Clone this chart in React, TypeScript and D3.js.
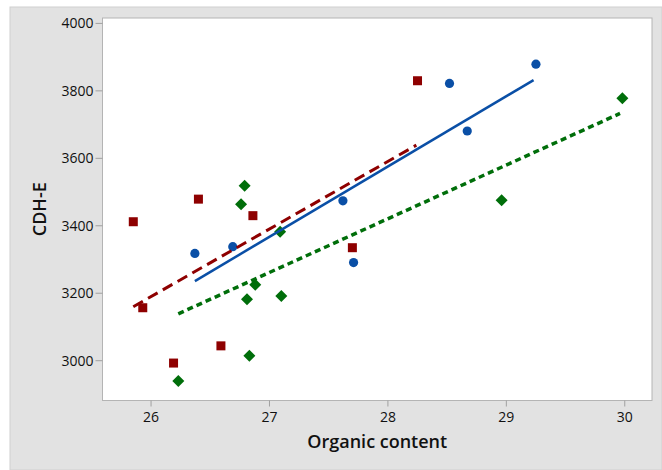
import React from "react";
import * as d3 from "d3";

// Scatter of CDH-E against organic content, three groups with fitted lines
const blueX = [26.37, 26.69, 27.62, 27.71, 28.52, 28.67, 29.25];
const blueY = [3318, 3338, 3474, 3291, 3822, 3681, 3879];

const redX = [25.85, 25.93, 26.19, 26.4, 26.59, 26.86, 27.7, 28.25];
const redY = [3412, 3157, 2993, 3479, 3044, 3430, 3335, 3830];

const greenX = [26.23, 26.76, 26.79, 26.81, 26.83, 26.88, 27.09, 27.1, 28.96, 29.98];
const greenY = [2940, 3464, 3519, 3182, 3015, 3225, 3382, 3192, 3476, 3778];

// fitted line end points [x, y]
const blueFit = [[26.37, 3236], [29.23, 3832]];
const redFit = [[25.85, 3160], [28.24, 3639]];
const greenFit = [[26.23, 3139], [29.96, 3733]];

const xTicks = [26, 27, 28, 29, 30];
const yTicks = [3000, 3200, 3400, 3600, 3800, 4000];

const width = 662;
const height = 470;
const plot = { left: 102.5, top: 18, right: 652, bottom: 400.5 };
const font = "'Open Sans', 'Noto Sans', sans-serif";

const BLUE = "#0a4fa6";
const RED = "#8e0000";
const GREEN = "#006e0a";

export default function App() {
  const x = d3.scaleLinear().domain([25.59, 30.23]).range([plot.left, plot.right]);
  const y = d3.scaleLinear().domain([2882, 4016]).range([plot.bottom, plot.top]);

  const line = d3
    .line<number[]>()
    .x((d) => x(d[0]))
    .y((d) => y(d[1]));

  const zip = (xs: number[], ys: number[]) => xs.map((v, i) => [v, ys[i]]);

  return (
    <svg
      width={width}
      height={height}
      style={{ position: "absolute", left: 0, top: 0, fontFamily: font }}
    >
      <rect x={0} y={0} width={width} height={height} fill="#ffffff" />
      <rect x={10} y={7} width={width - 10} height={height - 7} fill="#e2e2e2" stroke="#d0d0d0" />
      <rect
        x={plot.left}
        y={plot.top}
        width={plot.right - plot.left}
        height={plot.bottom - plot.top}
        fill="#ffffff"
        stroke="#b4b4b4"
        strokeWidth={1}
      />

      {/* y axis */}
      {yTicks.map((t) => (
        <g key={"y" + t}>
          <line x1={plot.left - 7} x2={plot.left} y1={y(t)} y2={y(t)} stroke="#a0a0a0" />
          <text x={plot.left - 9} y={y(t)} dy="0.35em" textAnchor="end" fontSize={14} fill="#111">
            {t}
          </text>
        </g>
      ))}
      {/* x axis */}
      {xTicks.map((t) => (
        <g key={"x" + t}>
          <line x1={x(t)} x2={x(t)} y1={plot.bottom} y2={plot.bottom + 6} stroke="#a0a0a0" />
          <text x={x(t)} y={421.5} textAnchor="middle" fontSize={14} fill="#111">
            {t}
          </text>
        </g>
      ))}

      <text
        x={(plot.left + plot.right) / 2}
        y={448}
        textAnchor="middle"
        fontSize={18}
        fontWeight={600}
        fill="#111"
      >
        Organic content
      </text>
      <text
        transform={`translate(46, ${(plot.top + plot.bottom) / 2}) rotate(-90)`}
        textAnchor="middle"
        fontSize={18}
        fontWeight={600}
        fill="#111"
      >
        CDH-E
      </text>

      {/* markers */}
      {zip(redX, redY).map((d, i) => (
        <rect key={"r" + i} x={x(d[0]) - 4.5} y={y(d[1]) - 4.5} width={9} height={9} fill={RED} />
      ))}
      {zip(greenX, greenY).map((d, i) => (
        <path
          key={"g" + i}
          d={`M${x(d[0])},${y(d[1]) - 6}l6,6l-6,6l-6,-6z`}
          fill={GREEN}
        />
      ))}
      {zip(blueX, blueY).map((d, i) => (
        <circle key={"b" + i} cx={x(d[0])} cy={y(d[1])} r={4.6} fill={BLUE} />
      ))}

      {/* fitted lines */}
      <path d={line(redFit) || ""} fill="none" stroke={RED} strokeWidth={3} strokeDasharray="11,6" />
      <path d={line(blueFit) || ""} fill="none" stroke={BLUE} strokeWidth={2.5} />
      <path d={line(greenFit) || ""} fill="none" stroke={GREEN} strokeWidth={3.5} strokeDasharray="6,4" />
    </svg>
  );
}
